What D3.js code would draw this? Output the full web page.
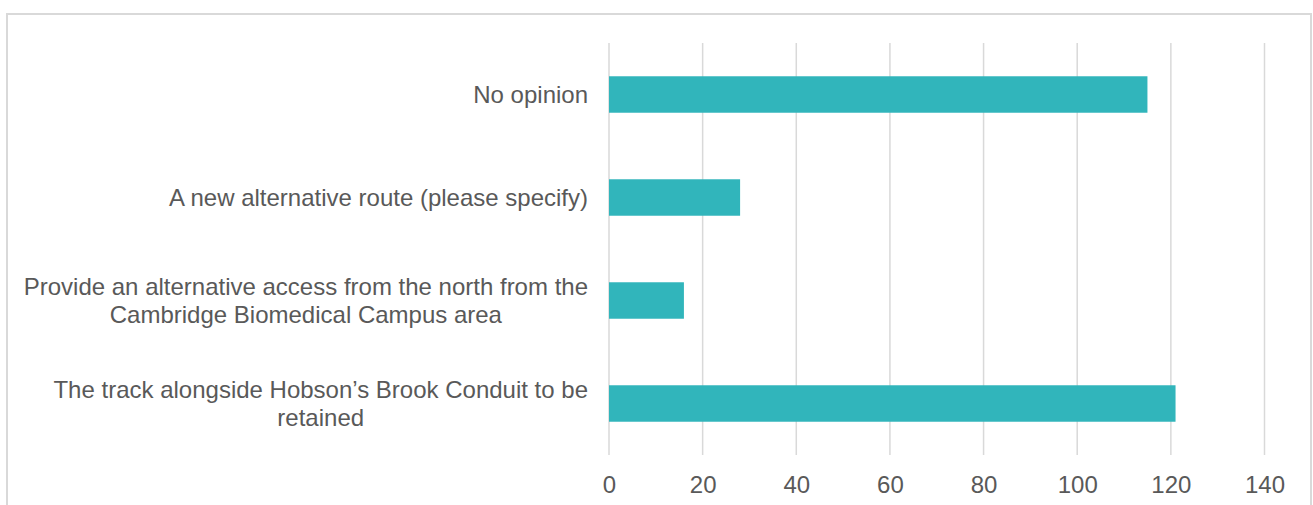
<!DOCTYPE html>
<html>
<head>
<meta charset="utf-8">
<script src="https://cdn.jsdelivr.net/npm/d3@7"></script>
<style>
  html, body { margin: 0; padding: 0; background: #fff; }
  svg { display: block; }
  text { font-family: "Liberation Sans", Arial, sans-serif; fill: #595959; }
</style>
</head>
<body>
<svg id="chart" width="1313" height="505"></svg>
<script>
// Responses per option
const categories = [
  "No opinion",
  "A new alternative route (please specify)",
  "Provide an alternative access from the north from the Cambridge Biomedical Campus area",
  "The track alongside Hobson\u2019s Brook Conduit to be retained"
];
const values = [115, 28, 16, 121];
const tickValues = [0, 20, 40, 60, 80, 100, 120, 140];

const plot = { left: 609, right: 1264.5, top: 43, bottom: 455 };
const fontSize = 24;
const labelRight = 588;
const labelMaxWidth = 572;

const svg = d3.select("#chart");

// Outer frame (bottom edge falls below the visible area)
svg.append("rect")
  .attr("x", 7).attr("y", 14)
  .attr("width", 1304).attr("height", 520)
  .attr("fill", "none")
  .attr("stroke", "#d9d9d9")
  .attr("stroke-width", 2);

const x = d3.scaleLinear().domain([0, 140]).range([plot.left, plot.right]);
const y = d3.scaleBand().domain(categories).range([plot.top, plot.bottom]).paddingInner(0.646).paddingOuter(0.323);

// Vertical gridlines
svg.append("g").selectAll("line")
  .data(tickValues)
  .join("line")
  .attr("x1", d => x(d)).attr("x2", d => x(d))
  .attr("y1", plot.top).attr("y2", plot.bottom)
  .attr("stroke", "#d9d9d9")
  .attr("stroke-width", 1.5);

// Bars
svg.append("g").selectAll("rect")
  .data(categories)
  .join("rect")
  .attr("x", x(0))
  .attr("y", d => y(d))
  .attr("width", (d, i) => x(values[i]) - x(0))
  .attr("height", y.bandwidth())
  .attr("fill", "#31b5bb");

// X axis tick labels
const xAxis = d3.axisBottom(x).tickValues(tickValues).tickSize(0).tickPadding(0);
const gx = svg.append("g")
  .attr("transform", `translate(0, ${plot.bottom})`)
  .call(xAxis);
gx.select(".domain").remove();
gx.selectAll("text")
  .attr("dy", null)
  .attr("y", 38)
  .style("font-size", fontSize + "px")
  .style("font-family", "'Liberation Sans', Arial, sans-serif")
  .attr("fill", "#595959");

// Category labels, wrapped and centred within a right-aligned block
const measure = svg.append("text").style("font-size", fontSize + "px");
function textWidth(s) { measure.text(s); return measure.node().getComputedTextLength(); }
function wrap(s) {
  const words = s.split(" ");
  const lines = [];
  let cur = "";
  words.forEach(w => {
    const t = cur ? cur + " " + w : w;
    if (textWidth(t) > labelMaxWidth && cur) { lines.push(cur); cur = w; }
    else cur = t;
  });
  if (cur) lines.push(cur);
  return lines;
}
const lineH = 28;
const labels = svg.append("g");
categories.forEach(c => {
  const lines = wrap(c);
  const blockW = d3.max(lines, textWidth);
  const cx = labelRight - blockW / 2;
  const cy = y(c) + y.bandwidth() / 2;
  const t = labels.append("text")
    .attr("text-anchor", "middle")
    .style("font-size", fontSize + "px");
  lines.forEach((ln, i) => {
    t.append("tspan")
      .attr("x", cx)
      .attr("y", cy + (i - (lines.length - 1) / 2) * lineH)
      .attr("dy", "0.35em")
      .text(ln);
  });
});
measure.remove();
</script>
</body>
</html>
